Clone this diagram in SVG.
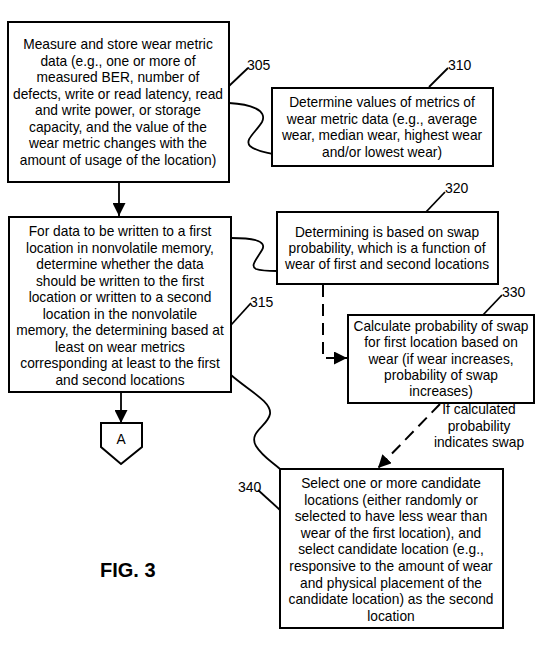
<svg xmlns="http://www.w3.org/2000/svg" width="540" height="663" viewBox="0 0 540 663">
<style>
.box{fill:#fff;stroke:#000;stroke-width:2}
.t{font-family:"Liberation Sans",Arial,sans-serif;font-size:13.75px;fill:#000;text-anchor:middle}
.lbl{font-family:"Liberation Sans",Arial,sans-serif;font-size:14px;fill:#000}
.ln{fill:none;stroke:#000;stroke-width:1.8}
.dash{fill:none;stroke:#000;stroke-width:2;stroke-dasharray:12,7}
</style>
<defs>
<marker id="ah" viewBox="0 0 10 10" refX="10" refY="5" markerWidth="13" markerHeight="13" markerUnits="userSpaceOnUse" orient="auto">
<path d="M0,0 L10,5 L0,10 z" fill="#000"/>
</marker>
</defs>
<rect width="540" height="663" fill="#fff"/>
<g id="connectors">
<path class="ln" d="M119,182 V216" marker-end="url(#ah)"/>
<path class="ln" d="M121,392 V423" marker-end="url(#ah)"/>
<path class="ln" d="M229,103 C250,104 268,110 262,122 C256,132 244,140 250,146 C256,151 264,152 272,154"/>
<path class="ln" d="M231,238 C250,238 268,240 262,250 C256,260 250,266 256,269 C262,271 270,271 277,271"/>
<path class="ln" d="M231,375 C248,390 272,402 270,414 C268,426 248,432 256,446 C262,456 272,462 280,469"/>
<path class="dash" d="M323,285 V358 H347" marker-end="url(#ah)"/>
<path class="dash" d="M440,404 L378,468" marker-end="url(#ah)"/>
<path class="ln" d="M229,86 L248,68"/>
<path class="ln" d="M429,87 L448,68"/>
<path class="ln" d="M426,212 L445,192"/>
<path class="ln" d="M482,316 L502,295"/>
<path class="ln" d="M231,325 L251,303"/>
<path class="ln" d="M258,490 L280,510"/>
</g>
<g id="n305">
<rect class="box" x="8" y="22" width="221" height="160"/>
<text class="t" x="118" y="49">Measure and store wear metric</text>
<text class="t" x="118" y="65.5">data (e.g., one or more of</text>
<text class="t" x="118" y="82">measured BER, number of</text>
<text class="t" x="118" y="98.5">defects, write or read latency, read</text>
<text class="t" x="118" y="115">and write power, or storage</text>
<text class="t" x="118" y="131.5">capacity, and the value of the</text>
<text class="t" x="118" y="148">wear metric changes with the</text>
<text class="t" x="118" y="164.5">amount of usage of the location)</text>
<text class="lbl" x="247" y="70">305</text>
</g>
<g id="n310">
<rect class="box" x="272" y="88" width="221" height="78"/>
<text class="t" x="382" y="107">Determine values of metrics of</text>
<text class="t" x="382" y="123.5">wear metric data (e.g., average</text>
<text class="t" x="382" y="140">wear, median wear, highest wear</text>
<text class="t" x="382" y="156.5">and/or lowest wear)</text>
<text class="lbl" x="448" y="70">310</text>
</g>
<g id="n315">
<rect class="box" x="9" y="217" width="222" height="175"/>
<text class="t" x="120" y="236">For data to be written to a first</text>
<text class="t" x="120" y="252.5">location in nonvolatile memory,</text>
<text class="t" x="120" y="269">determine whether the data</text>
<text class="t" x="120" y="285.5">should be written to the first</text>
<text class="t" x="120" y="302">location or written to a second</text>
<text class="t" x="120" y="318.5">location in the nonvolatile</text>
<text class="t" x="120" y="335">memory, the determining based at</text>
<text class="t" x="120" y="351.5">least on wear metrics</text>
<text class="t" x="120" y="368">corresponding at least to the first</text>
<text class="t" x="120" y="384.5">and second locations</text>
<text class="lbl" x="250" y="307">315</text>
</g>
<g id="n320">
<rect class="box" x="277" y="212" width="221" height="72"/>
<text class="t" x="387" y="237">Determining is based on swap</text>
<text class="t" x="387" y="253">probability, which is a function of</text>
<text class="t" x="387" y="269">wear of first and second locations</text>
<text class="lbl" x="445" y="193">320</text>
</g>
<g id="n330">
<rect class="box" x="348" y="315" width="186" height="88"/>
<text class="t" x="441" y="331">Calculate probability of swap</text>
<text class="t" x="441" y="347.3">for first location based on</text>
<text class="t" x="441" y="363.6">wear (if wear increases,</text>
<text class="t" x="441" y="379.9">probability of swap</text>
<text class="t" x="441" y="396.2">increases)</text>
<text class="lbl" x="502" y="297">330</text>
</g>
<g id="cond">
<text class="t" x="479" y="414">If calculated</text>
<text class="t" x="479" y="430.5">probability</text>
<text class="t" x="479" y="447">indicates swap</text>
</g>
<g id="n340">
<rect class="box" x="280" y="469" width="223" height="159"/>
<text class="t" x="391" y="488">Select one or more candidate</text>
<text class="t" x="391" y="504.6">locations (either randomly or</text>
<text class="t" x="391" y="521.2">selected to have less wear than</text>
<text class="t" x="391" y="537.8">wear of the first location), and</text>
<text class="t" x="391" y="554.4">select candidate location (e.g.,</text>
<text class="t" x="391" y="571">responsive to the amount of wear</text>
<text class="t" x="391" y="587.6">and physical placement of the</text>
<text class="t" x="391" y="604.2">candidate location) as the second</text>
<text class="t" x="391" y="620.8">location</text>
<text class="lbl" x="238" y="492">340</text>
</g>
<g id="nA">
<path class="box" d="M101,423 H142 V447 L121,464 L101,447 Z"/>
<text class="t" x="121" y="444">A</text>
</g>
<g id="fig">
<text x="100" y="577" font-family="'Liberation Sans',Arial,sans-serif" font-size="20" font-weight="bold">FIG. 3</text>
</g>
</svg>
